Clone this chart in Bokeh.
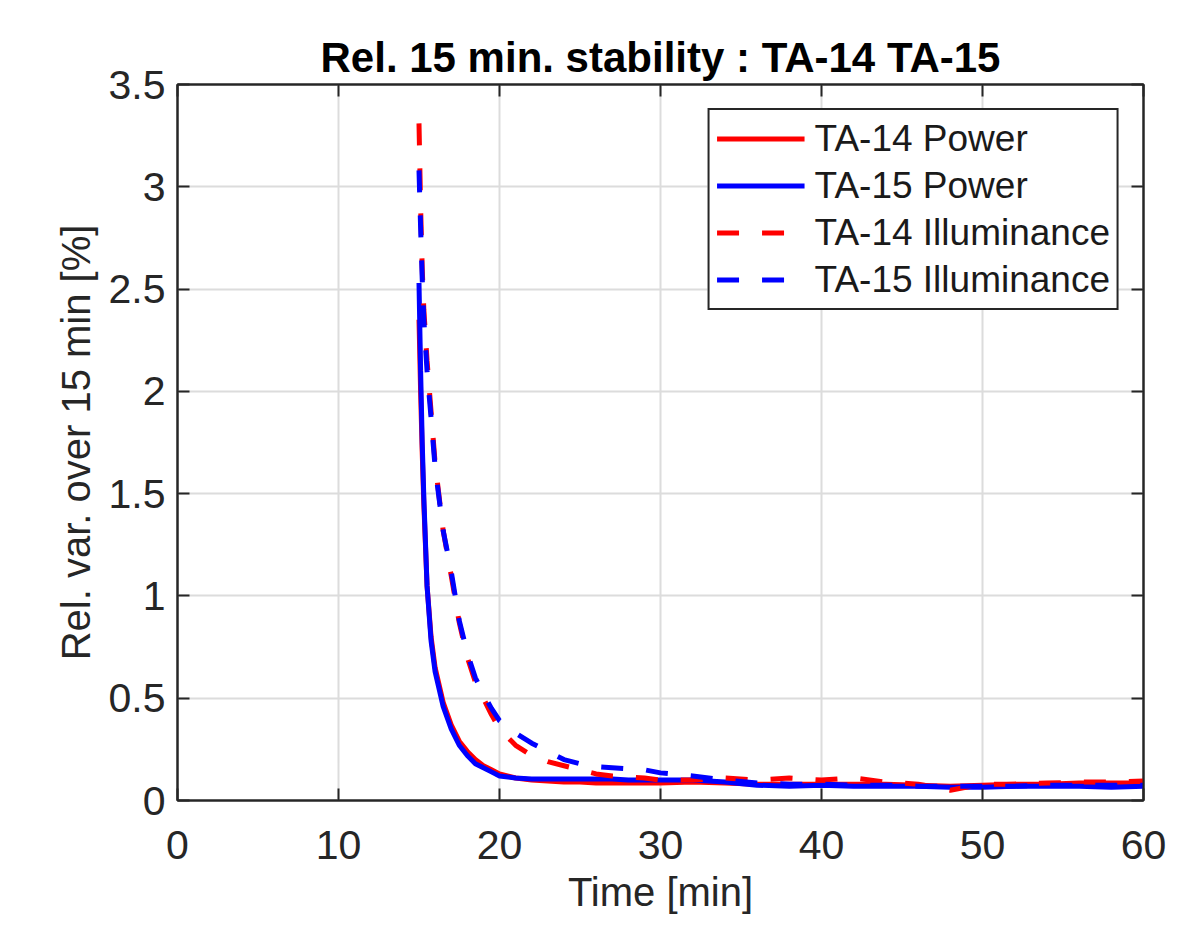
from bokeh.plotting import figure
from bokeh.models import Range1d, FixedTicker, LinearAxis, Legend, LegendItem
from bokeh.embed import file_html
from bokeh.resources import INLINE

# ---- data ----
time_min = [15.0, 15.1, 15.2, 15.3, 15.5, 15.75, 16.0, 16.5, 17.0, 17.5, 18.0, 18.5, 19.0, 19.5, 20.0,
            21, 22, 23, 24, 25, 26, 27, 28, 29, 30, 32, 34, 36, 38, 40, 42, 44, 46, 48, 50, 52, 54, 56, 58, 60]

ta14_power = [2.35, 2.0, 1.7, 1.45, 1.05, 0.8, 0.65, 0.48, 0.37, 0.29, 0.24, 0.2, 0.17, 0.15, 0.13,
              0.11, 0.1, 0.095, 0.09, 0.09, 0.085, 0.085, 0.085, 0.085, 0.085, 0.09, 0.085, 0.08, 0.08, 0.08,
              0.08, 0.08, 0.075, 0.07, 0.075, 0.08, 0.08, 0.085, 0.085, 0.085]

ta15_power = [2.53, 2.1, 1.75, 1.48, 1.05, 0.78, 0.63, 0.46, 0.35, 0.27, 0.22, 0.18, 0.16, 0.14, 0.12,
              0.11, 0.105, 0.105, 0.105, 0.105, 0.105, 0.105, 0.1, 0.1, 0.1, 0.1, 0.09, 0.075, 0.07, 0.075,
              0.07, 0.07, 0.07, 0.065, 0.065, 0.07, 0.07, 0.07, 0.065, 0.07]

ta14_illum = [3.31, 2.9, 2.6, 2.4, 2.15, 1.9, 1.65, 1.32, 1.1, 0.87, 0.7, 0.58, 0.5, 0.42, 0.35,
              0.27, 0.22, 0.19, 0.17, 0.15, 0.13, 0.12, 0.115, 0.11, 0.1, 0.1, 0.11, 0.1, 0.11, 0.1,
              0.11, 0.09, 0.08, 0.05, 0.08, 0.08, 0.085, 0.09, 0.09, 0.095]

ta15_illum = [3.08, 2.8, 2.55, 2.35, 2.1, 1.87, 1.63, 1.32, 1.12, 0.88, 0.72, 0.6, 0.52, 0.45, 0.39,
              0.33, 0.28, 0.24, 0.2, 0.18, 0.165, 0.16, 0.155, 0.15, 0.135, 0.12, 0.1, 0.085, 0.08, 0.08,
              0.075, 0.075, 0.07, 0.07, 0.07, 0.07, 0.075, 0.075, 0.075, 0.075]

series_labels = ["TA-14 Power", "TA-15 Power", "TA-14 Illuminance", "TA-15 Illuminance"]

x_ticks = [0, 10, 20, 30, 40, 50, 60]
y_ticks = [0, 0.5, 1, 1.5, 2, 2.5, 3, 3.5]
y_tick_labels = ["0", "0.5", "1", "1.5", "2", "2.5", "3", "3.5"]

title_text = "Rel. 15 min. stability : TA-14 TA-15"
x_label = "Time [min]"
y_label = "Rel. var. over 15 min [%]"

# ---- style ----
FONT = "Liberation Sans"
AX = "#262626"
GRID = "#dcdcdc"

p = figure(width=1180, height=917, output_backend="svg", toolbar_location=None,
           x_range=Range1d(0, 60), y_range=Range1d(0, 3.5),
           min_border_left=177, min_border_right=37, min_border_top=84, min_border_bottom=117,
           background_fill_color="white", border_fill_color="white")

p.title.text = title_text
p.title.text_font = FONT
p.title.text_font_size = "42px"
p.title.text_font_style = "bold"
p.title.text_color = "black"
p.title.align = "center"
p.title.standoff = 8

p.outline_line_color = AX
p.outline_line_width = 2
p.outline_line_alpha = 1

for ax in (p.xaxis[0], p.yaxis[0]):
    ax.axis_line_color = AX
    ax.axis_line_width = 2
    ax.major_tick_line_color = AX
    ax.major_tick_line_width = 2
    ax.major_tick_in = 12
    ax.major_tick_out = 0
    ax.minor_tick_line_color = None
    ax.major_label_text_font = FONT
    ax.major_label_text_font_size = "41px"
    ax.major_label_text_color = AX
    ax.axis_label_text_font = FONT
    ax.axis_label_text_font_size = "40px"
    ax.axis_label_text_font_style = "normal"
    ax.axis_label_text_color = AX

p.xaxis[0].ticker = FixedTicker(ticks=x_ticks)
p.yaxis[0].ticker = FixedTicker(ticks=y_ticks)
p.yaxis[0].major_label_overrides = {t: l for t, l in zip(y_ticks, y_tick_labels)}
p.xaxis[0].axis_label = x_label
p.yaxis[0].axis_label = y_label
p.xaxis[0].major_label_standoff = 30
p.xaxis[0].axis_label_standoff = 8
p.yaxis[0].major_label_standoff = 12
p.yaxis[0].axis_label_standoff = 8

# mirrored tick axes on top and right (no labels)
for loc, tks in (("above", x_ticks), ("right", y_ticks)):
    a = LinearAxis(ticker=FixedTicker(ticks=tks))
    a.axis_line_color = AX
    a.axis_line_width = 2
    a.major_tick_line_color = AX
    a.major_tick_line_width = 2
    a.major_tick_in = 12
    a.major_tick_out = 0
    a.minor_tick_line_color = None
    a.major_label_text_font_size = "0px"
    a.major_label_text_color = None
    a.major_label_standoff = 0
    p.add_layout(a, loc)

p.xgrid.ticker = FixedTicker(ticks=x_ticks)
p.ygrid.ticker = FixedTicker(ticks=y_ticks)
for g in (p.xgrid[0], p.ygrid[0]):
    g.grid_line_color = GRID
    g.grid_line_width = 2

RED = "#ff0000"
BLUE = "#0000ff"
DASH = "22 23"
r1 = p.line(time_min, ta14_power, line_color=RED, line_width=5)
r2 = p.line(time_min, ta15_power, line_color=BLUE, line_width=5)
r3 = p.line(time_min, ta14_illum, line_color=RED, line_width=5, line_dash=DASH)
r4 = p.line(time_min, ta15_illum, line_color=BLUE, line_width=5, line_dash=DASH)

legend = Legend(items=[LegendItem(label=series_labels[i], renderers=[r]) for i, r in enumerate([r1, r2, r3, r4])],
                location="top_right")
legend.margin = 24
legend.padding = 7
legend.spacing = 4
legend.label_height = 43
legend.glyph_height = 43
legend.glyph_width = 88
legend.label_standoff = 10
legend.label_text_font = FONT
legend.label_text_font_size = "37px"
legend.label_text_color = "#1a1a1a"
legend.border_line_color = AX
legend.border_line_width = 2
legend.border_line_alpha = 1
legend.background_fill_color = "white"
legend.background_fill_alpha = 1
p.add_layout(legend)

open("out.html", "w").write(file_html(p, INLINE))
